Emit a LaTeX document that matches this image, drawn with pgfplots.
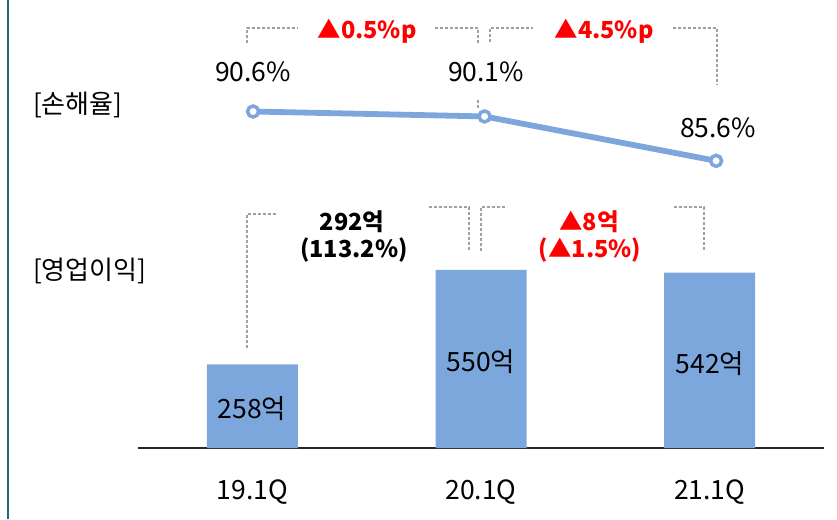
\documentclass[border=0pt]{standalone}
\usepackage{fontspec}
\setmainfont{Noto Sans CJK KR}
\usepackage{pgfplots}
\pgfplotsset{compat=1.18}
\definecolor{barblue}{RGB}{124,167,221}
\definecolor{lineblue}{RGB}{124,166,220}
\definecolor{bordert}{RGB}{30,105,115}
\definecolor{dgray}{RGB}{160,160,160}
\newcommand{\fs}{\fontsize{26.5}{30}\selectfont}
\newcommand{\fl}{\fontsize{26}{30}\selectfont}
\newcommand{\fb}{\fontsize{23.5}{27}\selectfont\bfseries}
\begin{document}
\begin{tikzpicture}[x=1pt,y=1pt]
\path[use as bounding box] (0,0) rectangle (837,519);
\draw[bordert, line width=2pt] (8,0) -- (8,519);
% bars
\begin{axis}[at={(138pt,71pt)}, anchor=south west, scale only axis,
  width=686pt, height=448pt, xmin=-0.5, xmax=2.5, ymin=0, ymax=1384,
  axis x line*=bottom, axis y line=none, x axis line style={-, black!85, line width=1.3pt},
  xtick={0,1,2}, xticklabels={19.1Q,20.1Q,21.1Q}, major tick length=0pt,
  xticklabel style={font=\fs, inner sep=0pt, yshift=-32pt},
  clip=false]
\addplot[ybar, bar width=91pt, fill=barblue, draw=none] coordinates {(0,258) (1,550) (2,542)};
\end{axis}
% loss ratio line
\begin{axis}[at={(138pt,71pt)}, anchor=south west, scale only axis,
  width=686pt, height=448pt, xmin=-0.497, xmax=2.466, ymin=56.5, ymax=101.9,
  hide axis, clip=false]
\addplot[color=lineblue, line width=5.8pt, mark=*, mark size=5.5pt,
  mark options={fill=white, draw=lineblue, line width=3.5pt}]
  coordinates {(0,90.6) (1,90.1) (2,85.6)};
\end{axis}
% dashed brackets
\begin{scope}[dgray, line width=1.1pt, dash pattern=on 3pt off 2pt]
\draw (247,476)--(247,491)--(298,491);
\draw (435,491)--(478,491)--(478,476);
\draw (478,419)--(478,410);
\draw (490,477)--(490,491)--(533,491);
\draw (673,491)--(717,491)--(717,434);
\draw (247,171)--(247,305)--(278,305);
\draw (429,312)--(469,312)--(469,268);
\draw (481,268)--(481,312)--(507,312);
\draw (674,312)--(704,312)--(704,268);
\end{scope}
% texts
\begin{scope}[every node/.style={inner sep=0pt, font=\fs}]
\node at (253,447) {90.6\%};
\node at (486,447) {90.1\%};
\node at (718,391) {85.6\%};
\node at (252,110) {258억};
\node at (481,157) {550억};
\node at (710,155) {542억};
\node[anchor=west, font=\fl] at (33,414) {[손해율]};
\node[anchor=west, font=\fl] at (33,248) {[영업이익]};
\node[red, font=\fb] at (367,488) {▲0.5\%p};
\node[red, font=\fb] at (604,488) {▲4.5\%p};
\node[font=\fb] at (352,297.5) {292억};
\node[font=\fb] at (354,269) {(113.2\%)};
\node[red, font=\fb] at (589,297.5) {▲8억};
\node[red, font=\fb] at (590,269) {(▲1.5\%)};
\end{scope}
\end{tikzpicture}
\end{document}
